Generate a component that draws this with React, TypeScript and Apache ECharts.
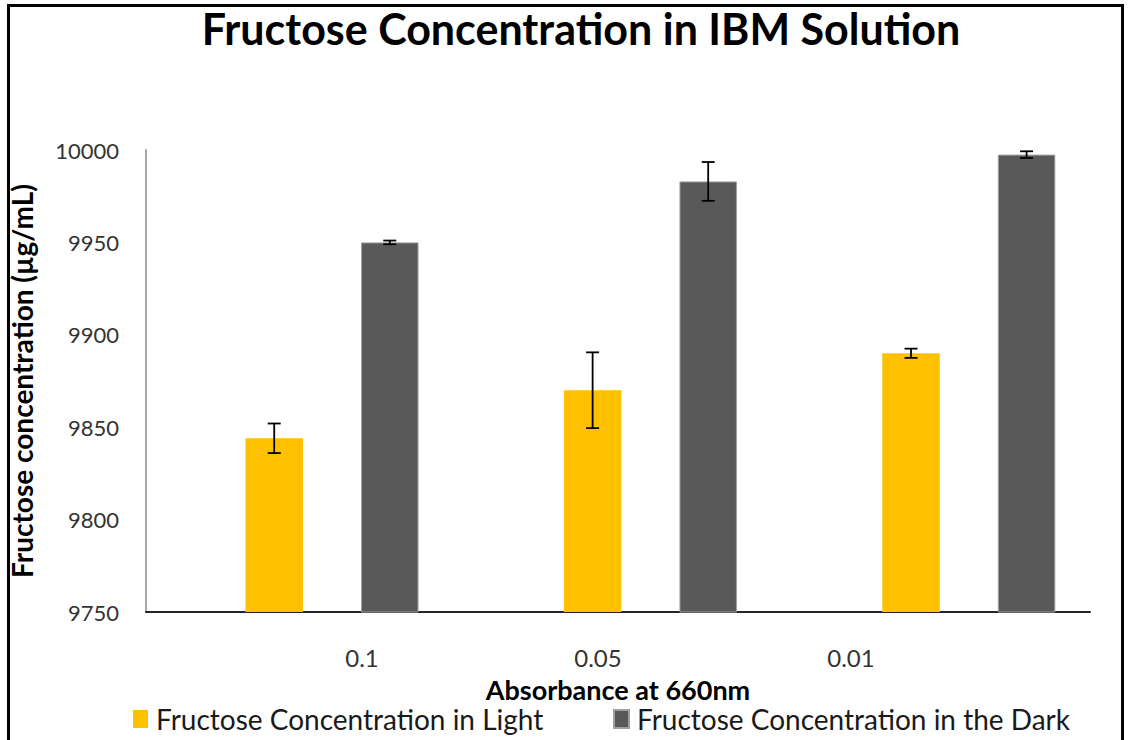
import { useEffect, useRef } from "react";
import * as echarts from "echarts";

const categories = ["0.1", "0.05", "0.01"];
const seriesNames = ["Fructose Concentration in Light", "Fructose Concentration in the Dark"];
const lightValues = [9844, 9870, 9890];
const lightErrors = [8, 20.5, 2.5];
const darkValues = [9950, 9983, 9997.5];
const darkErrors = [1, 10.5, 1.8];
const yMin = 9750;
const yMax = 10000;
const yInterval = 50;
const categoryLabelX = [362, 598, 851];
const legendLeft = [128, 608];

const FONT = "Lato, 'Noto Sans', sans-serif";
const BAR_W = 57.5;
const GAP_RATIO = 1.01;
const OFFSET = (BAR_W * (1 + GAP_RATIO)) / 2;

function errorSeries(values: number[], errors: number[], offset: number) {
  return {
    type: "custom",
    xAxisIndex: 1,
    yAxisIndex: 1,
    z: 5,
    silent: true,
    data: values.map((v, i) => [i, v, errors[i]]),
    renderItem: (params: any, api: any) => {
      const i = api.value(0);
      const v = api.value(1);
      const e = api.value(2);
      const x = api.coord([i, v])[0] + offset;
      const hi = api.coord([i, v + e])[1];
      const lo = api.coord([i, v - e])[1];
      const cap = 6.5;
      const style = { stroke: "#000", lineWidth: 1.8 };
      return {
        type: "group",
        children: [
          { type: "line", shape: { x1: x, y1: hi, x2: x, y2: lo }, style },
          { type: "line", shape: { x1: x - cap, y1: hi, x2: x + cap, y2: hi }, style },
          { type: "line", shape: { x1: x - cap, y1: lo, x2: x + cap, y2: lo }, style },
        ],
      };
    },
  };
}

export default function App() {
  const ref = useRef<HTMLDivElement>(null);
  useEffect(() => {
    document.body.style.margin = "0";
    if (!ref.current) return;
    const chart = echarts.init(ref.current, null, { renderer: "svg" });
    chart.setOption({
      animation: false,
      backgroundColor: "#fff",
      textStyle: { fontFamily: FONT },
      title: {
        text: "Fructose Concentration in IBM Solution",
        left: 576,
        textAlign: "center",
        top: 2,
        textStyle: { fontFamily: FONT, fontSize: 43, fontWeight: "bold", color: "#000" },
      },
      legend: seriesNames.map((n, i) => ({
        data: [n],
        left: legendLeft[i],
        top: 700,
        icon: "rect",
        itemWidth: 15,
        itemHeight: 18,
        textStyle: { fontFamily: FONT, fontSize: 28, color: "#1a1a1a", padding: [0, 0, 0, 3] },
      })),
      grid: [
        { left: 145, top: 150, width: 945, height: 462 },
        { left: 172.8, top: 150, width: 957, height: 462 },
      ],
      xAxis: [
        {
          type: "category",
          gridIndex: 0,
          data: categories,
          axisLine: { lineStyle: { color: "#262626", width: 2 } },
          axisTick: { show: false },
          axisLabel: { show: false },
          name: "Absorbance at 660nm",
          nameLocation: "middle",
          nameGap: 64,
          nameTextStyle: { fontFamily: FONT, fontSize: 27, fontWeight: "bold", color: "#000" },
        },
        { type: "category", gridIndex: 1, data: categories, show: false },
      ],
      yAxis: [
        {
          type: "value",
          gridIndex: 0,
          min: yMin,
          max: yMax,
          interval: yInterval,
          axisLine: { show: true, lineStyle: { color: "#a6a6a6", width: 2 } },
          axisTick: { show: false },
          splitLine: { show: false },
          axisLabel: {
            fontFamily: FONT,
            fontSize: 22,
            color: "#333",
            margin: 27,
            formatter: (v: number) => String(v),
          },
          name: "Fructose concentration (µg/mL)",
          nameLocation: "middle",
          nameGap: 110,
          nameTextStyle: { fontFamily: FONT, fontSize: 28, fontWeight: "bold", color: "#000" },
        },
        { type: "value", gridIndex: 1, min: yMin, max: yMax, interval: yInterval, show: false },
      ],
      series: [
        {
          name: seriesNames[0],
          type: "bar",
          xAxisIndex: 1,
          yAxisIndex: 1,
          data: lightValues,
          barWidth: BAR_W,
          barGap: `${GAP_RATIO * 100}%`,
          itemStyle: { color: "#FFC000" },
        },
        {
          name: seriesNames[1],
          type: "bar",
          xAxisIndex: 1,
          yAxisIndex: 1,
          data: darkValues,
          barWidth: BAR_W,
          barGap: `${GAP_RATIO * 100}%`,
          itemStyle: { color: "#595959", borderColor: "#a0a0a0", borderWidth: 1 },
        },
        errorSeries(lightValues, lightErrors, -OFFSET),
        errorSeries(darkValues, darkErrors, OFFSET),
      ],
      graphic: [
        {
          type: "rect",
          shape: { x: 8.5, y: 5.5, width: 1114, height: 800 },
          style: { fill: "none", stroke: "#000", lineWidth: 3 },
          silent: true,
        },
        ...categories.map((c, i) => ({
          type: "text",
          x: categoryLabelX[i],
          y: 657,
          style: {
            text: c,
            fontFamily: FONT,
            fontSize: 24,
            fill: "#333",
            textAlign: "center",
            textVerticalAlign: "middle",
          },
        })),
      ],
    });
    return () => chart.dispose();
  }, []);
  return <div ref={ref} style={{ width: 1128, height: 740 }} />;
}
